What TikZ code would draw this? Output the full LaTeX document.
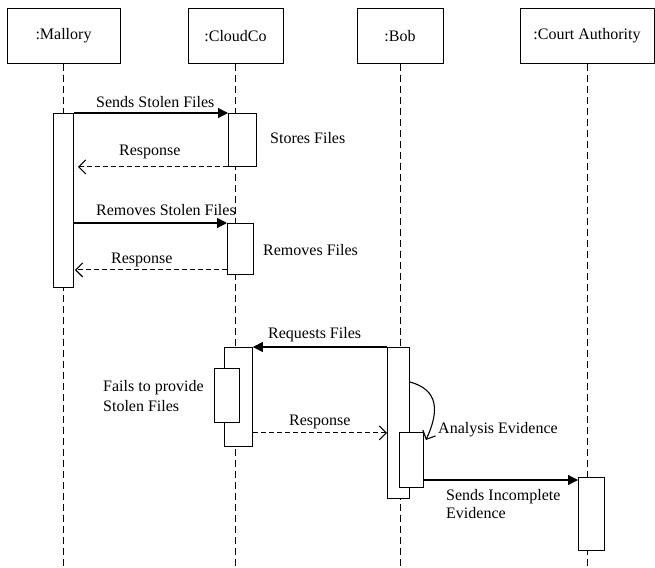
\documentclass[tikz,border=0pt]{standalone}
\usepackage{fontspec}
\setmainfont{Liberation Serif}
\usetikzlibrary{arrows.meta}

\begin{document}
\begin{tikzpicture}[x=1pt, y=-1pt, every node/.style={font=\fontsize{16}{18}\selectfont},
    head/.style={draw, minimum height=55pt, inner sep=0pt, line width=0.9pt},
    act/.style={draw, fill=white, inner sep=0pt, anchor=north west, line width=0.9pt},
    life/.style={dash pattern=on 7pt off 4pt, line width=0.9pt},
    msg/.style={-{Triangle[length=10pt,width=10pt]}, line width=1.2pt},
    reply/.style={dash pattern=on 5pt off 3pt, -{Straight Barb[length=7pt,width=14pt]}, line width=1.1pt},
    lbl/.style={anchor=base west, inner sep=0pt}]
    \useasboundingbox (0,0) rectangle (655,567);
    \coordinate (bottom) at (0,567);

    % lifelines
    \node[head, minimum width=113pt] (mallory) at (63.5,36) {:Mallory};
    \node[head, minimum width=95pt] (cloudco) at (235.5,36) {:CloudCo};
    \node[head, minimum width=86pt] (bob) at (400,36) {:Bob};
    \node[head, minimum width=134pt] (court) at (587,36) {:Court Authority};

    \draw[life] (mallory.south) -- (mallory.south |- bottom);
    \draw[life] (cloudco.south) -- (cloudco.south |- bottom);
    \draw[life] (bob.south) -- (bob.south |- bottom);
    \draw[life] (court.south) -- (court.south |- bottom);

    % activations
    \node[act, minimum width=20pt, minimum height=174pt] (mact) at (53,113) {};
    \node[act, minimum width=28pt, minimum height=53pt] (cact1) at (228,113) {};
    \node[act, minimum width=26pt, minimum height=51pt] (cact2) at (227,223) {};
    \node[act, minimum width=28pt, minimum height=99pt] (cact3) at (224,347) {};
    \node[act, minimum width=25pt, minimum height=54pt] (cfail) at (214,368) {};
    \node[act, minimum width=22pt, minimum height=151pt] (bact) at (387,347) {};
    \node[act, minimum width=24pt, minimum height=55pt] (bact2) at (399,432) {};
    \node[act, minimum width=26pt, minimum height=73pt] (kact) at (578,477) {};

    % messages
    \draw[msg] (mact.north east) -- (cact1.north west);
    \draw[reply, shorten >=4pt] (cact1.south west) -- (mact.east |- cact1.south west);
    \draw[msg] (mact.east |- cact2.north west) -- (cact2.north west);
    \coordinate (r2) at ([yshift=5pt]cact2.south west);
    \draw[reply, shorten >=1pt] (r2) -- (mact.east |- r2);
    \draw[msg] (bact.north west) -- (cact3.north east);
    \coordinate (r3) at ([yshift=14pt]cact3.south east);
    \draw[reply] (r3) -- (bact.west |- r3);
    \draw[-{Straight Barb[length=7pt,width=14pt]}, line width=1.1pt]
        ([yshift=-35pt]bact.north east) to[out=-15, in=65, looseness=1.3] ([xshift=2pt,yshift=-8pt]bact2.north east);
    \coordinate (r4) at ([yshift=-3pt]kact.north west);
    \draw[msg] (bact2.east |- r4) -- (kact.west |- r4);

    % labels
    \node[lbl] (l1) at (96,107) {Sends Stolen Files};
    \node[lbl] (l2) at (270,143) {Stores Files};
    \node[lbl] (l3) at (119,155) {Response};
    \node[lbl] (l4) at (96,215) {Removes Stolen Files};
    \node[lbl] (l5) at (263,255) {Removes Files};
    \node[lbl] (l6) at (111,263) {Response};
    \node[lbl] (l7) at (268,338) {Requests Files};
    \node[lbl] (l8) at (103,391) {Fails to provide};
    \node[lbl] (l9) at (103,411) {Stolen Files};
    \node[lbl] (l10) at (289,425) {Response};
    \node[lbl] (l11) at (438,433) {Analysis Evidence};
    \node[lbl] (l12) at (446,500) {Sends Incomplete};
    \node[lbl] (l13) at (446,518) {Evidence};
\end{tikzpicture}
\end{document}
